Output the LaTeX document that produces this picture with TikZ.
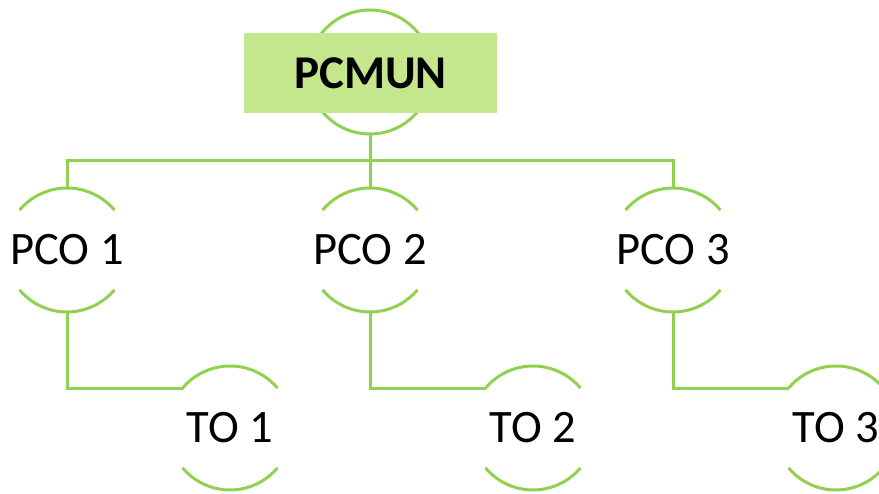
\documentclass[tikz,border=0pt]{standalone}
\usepackage{fontspec}
\setmainfont{Carlito}
\definecolor{leaf}{RGB}{146,208,80}
\definecolor{leaflight}{RGB}{196,231,142}
\begin{document}
\begin{tikzpicture}[x=1pt,y=1pt,
    ring/.style={draw=leaf, line width=3pt},
    link/.style={draw=leaf, line width=3pt},
    pco/.style={circle, minimum size=124pt, inner sep=0pt, outer sep=0pt,
        font=\fontsize{46.5}{54}\selectfont},
    title/.style={fill=leaflight, minimum width=253pt, minimum height=80pt,
        font=\fontsize{47}{54}\selectfont\bfseries}]
\useasboundingbox (0,0) rectangle (879,494);
% \draw [help lines, step=50] (0,0) grid (879,494);

% top circle, the box sits on it
\node[pco] (topring) at (370,422) {};
\draw[ring] (topring) circle (62);
\node[title] (pcmun) at (370.5,421) {PCMUN};

\node[pco] (pco1) at (67,244)  {PCO 1};
\node[pco] (pco2) at (370,244) {PCO 2};
\node[pco] (pco3) at (673,244) {PCO 3};

\node[pco] (to1) at (230,66) {TO 1};
\node[pco] (to2) at (533,66) {TO 2};
\node[pco] (to3) at (836,66) {TO 3};

% upper and lower arcs of each circle
\foreach \n in {pco1,pco2,pco3,to1,to2,to3} {
    \draw[ring] (\n.40)  arc[start angle=40,  end angle=140, radius=62];
    \draw[ring] (\n.220) arc[start angle=220, end angle=320, radius=62];
}

\coordinate (bar) at (370,333);
\draw[link] (topring.south) -- (pco2.north);
\draw[link] (pco1.north) |- (bar) -| (pco3.north);

\draw[link] (pco1.south) |- (to1.140);
\draw[link] (pco2.south) |- (to2.140);
\draw[link] (pco3.south) |- (to3.140);
\end{tikzpicture}
\end{document}
